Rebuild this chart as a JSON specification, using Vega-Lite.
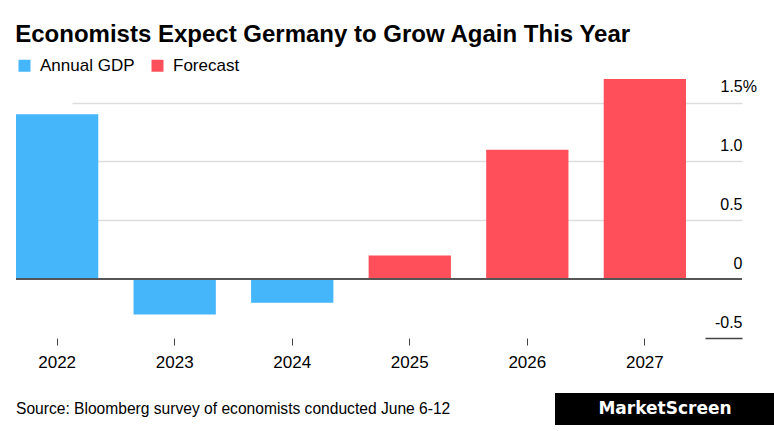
{
  "$schema": "https://vega.github.io/schema/vega-lite/v6.json",
  "padding": {"left": 15, "right": 0, "top": 23, "bottom": 0},
  "background": "white",
  "title": {
    "text": "Economists Expect Germany to Grow Again This Year",
    "anchor": "start",
    "font": "Liberation Sans",
    "fontSize": 24,
    "fontWeight": "bold",
    "color": "#000000",
    "offset": 10
  },
  "spacing": 23,
  "vconcat": [
    {
      "width": 726,
      "height": 259,
      "data": {
        "values": [
          {"year": "2022", "value": 1.4, "series": "Annual GDP"},
          {"year": "2023", "value": -0.3, "series": "Annual GDP"},
          {"year": "2024", "value": -0.2, "series": "Annual GDP"},
          {"year": "2025", "value": 0.2, "series": "Forecast"},
          {"year": "2026", "value": 1.1, "series": "Forecast"},
          {"year": "2027", "value": 1.7, "series": "Forecast"}
        ]
      },
      "layer": [
        {
          "mark": {"type": "bar"},
          "encoding": {
            "x": {
              "field": "year",
              "type": "ordinal",
              "scale": {"range": [0, 670], "paddingInner": 0.3, "paddingOuter": 0},
              "axis": {
                "title": null,
                "domain": false,
                "grid": false,
                "ticks": true,
                "tickSize": 7,
                "tickColor": "#444444",
                "labelFont": "Liberation Sans",
                "labelFontSize": 17,
                "labelColor": "#000000",
                "labelPadding": 9,
                "labelAngle": 0
              }
            },
            "y": {
              "field": "value",
              "type": "quantitative",
              "scale": {"domain": [-0.5, 1.7], "nice": false, "zero": true},
              "axis": {
                "orient": "right",
                "title": null,
                "domain": false,
                "values": [-0.5, 0, 0.5, 1, 1.5],
                "labelExpr": "datum.value == 1.5 ? '1.5%' : (datum.value == 0 ? '0' : (datum.value == -0.5 ? '-0.5' : format(datum.value, '.1f')))",
                "grid": true,
                "gridColor": {
                  "condition": {"test": "datum.value <= 0", "value": "rgba(0,0,0,0)"},
                  "value": "#dddddd"
                },
                "gridWidth": 1.5,
                "ticks": true,
                "tickSize": -37,
                "tickWidth": 1.5,
                "tickColor": {
                  "condition": {"test": "datum.value < 0", "value": "#444444"},
                  "value": "rgba(0,0,0,0)"
                },
                "labelAlign": {
                  "condition": {"test": "datum.value == 1.5", "value": "left"},
                  "value": "right"
                },
                "labelPadding": {
                  "condition": {"test": "datum.value == 1.5", "value": 15},
                  "value": 37
                },
                "labelBaseline": "alphabetic",
                "labelOffset": -11,
                "labelFont": "Liberation Sans",
                "labelFontSize": 16,
                "labelColor": "#000000"
              }
            },
            "color": {
              "field": "series",
              "type": "nominal",
              "scale": {"domain": ["Annual GDP", "Forecast"], "range": ["#45b6fa", "#ff4f5a"]},
              "legend": {
                "orient": "top",
                "direction": "horizontal",
                "title": null,
                "symbolType": "square",
                "symbolSize": 144,
                "symbolStrokeWidth": 0,
                "labelFont": "Liberation Sans",
                "labelFontSize": 17,
                "labelColor": "#000000",
                "labelOffset": 7,
                "columnPadding": 14,
                "offset": 4,
                "padding": 0
              }
            }
          }
        },
        {
          "mark": {"type": "rule", "color": "#555555", "strokeWidth": 1.5},
          "encoding": {"y": {"datum": 0}}
        }
      ]
    },
    {
      "spacing": 0,
      "hconcat": [
        {
          "width": 539,
          "height": 32,
          "data": {"values": [{"t": "Source: Bloomberg survey of economists conducted June 6-12"}]},
          "mark": {"type": "text", "align": "left", "baseline": "middle", "font": "Liberation Sans", "fontSize": 15.6, "color": "#000000"},
          "encoding": {
            "text": {"field": "t"},
            "x": {"datum": 0, "type": "quantitative", "scale": {"domain": [0, 1]}, "axis": null}
          }
        },
        {
          "width": 220,
          "height": 32,
          "view": {"fill": "#000000", "stroke": null},
          "data": {"values": [{"t": "MarketScreen"}]},
          "mark": {"type": "text", "align": "center", "baseline": "middle", "font": "DejaVu Sans", "fontWeight": "bold", "fontSize": 17, "color": "#ffffff"},
          "encoding": {"text": {"field": "t"}}
        }
      ]
    }
  ],
  "config": {
    "view": {"stroke": null},
    "concat": {"spacing": 23}
  }
}
